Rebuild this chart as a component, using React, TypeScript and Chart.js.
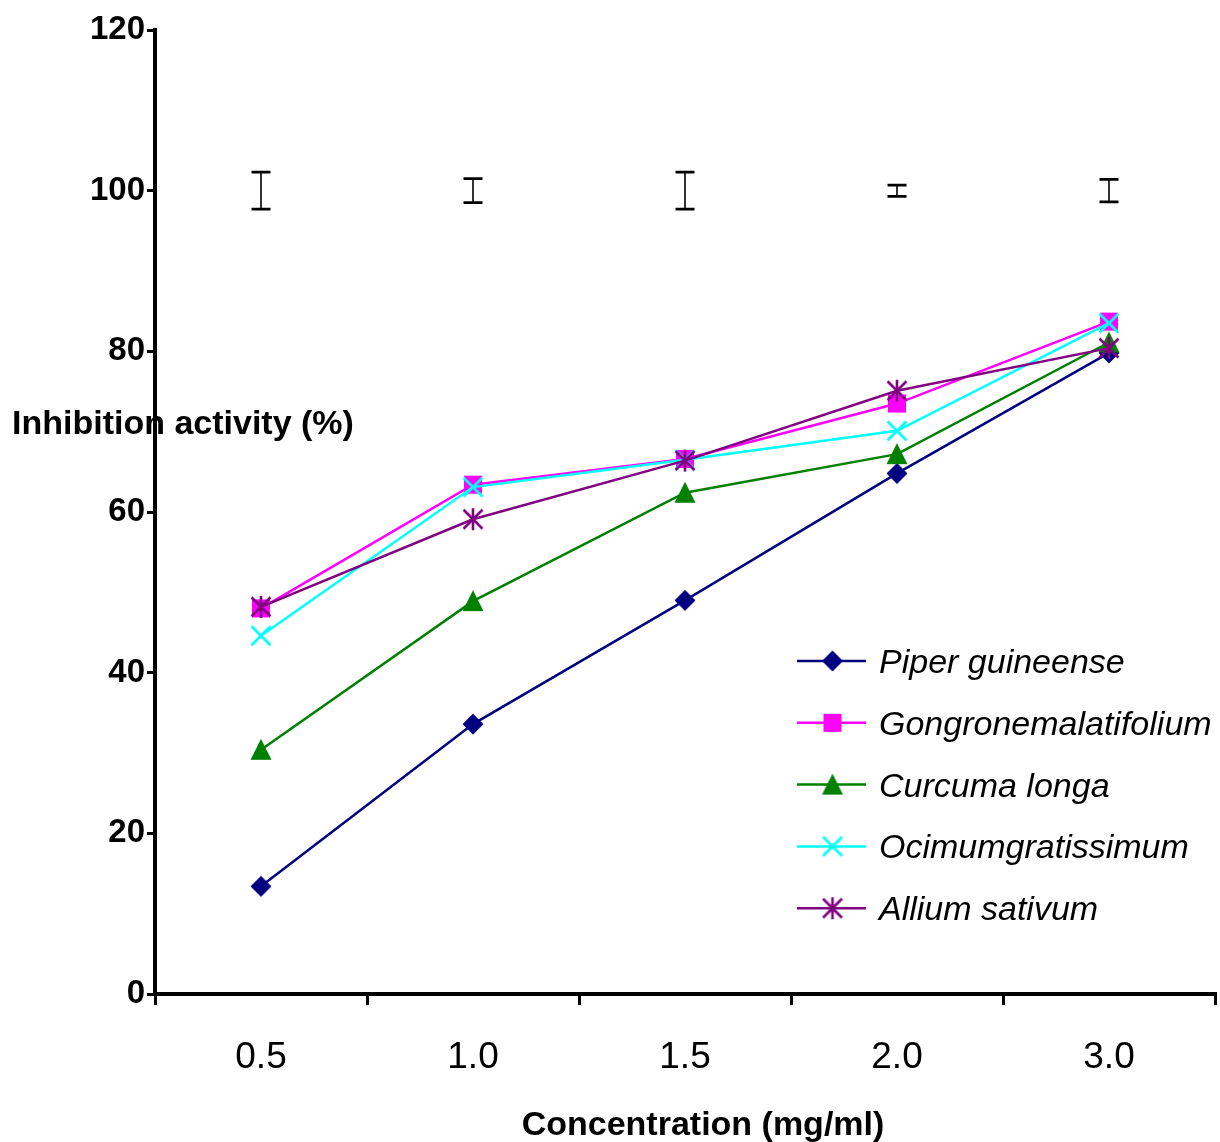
import React, { useEffect, useRef } from "react";
import { Chart, registerables } from "chart.js";

Chart.register(...registerables);

const categories = ["0.5", "1.0", "1.5", "2.0", "3.0"];
const seriesNames = [
  "Piper guineense",
  "Gongronemalatifolium",
  "Curcuma longa",
  "Ocimumgratissimum",
  "Allium sativum",
];
const piperValues = [13.4, 33.6, 49.0, 64.8, 79.8];
const gongronemaValues = [48.0, 63.4, 66.6, 73.5, 83.7];
const curcumaValues = [30.4, 48.9, 62.4, 67.2, 81.1];
const ocimumValues = [44.6, 63.1, 66.5, 70.1, 83.5];
const alliumValues = [48.2, 59.1, 66.4, 75.1, 80.4];
const errorCenter = [100, 100, 100, 100, 100];
const errorSize = [2.3, 1.5, 2.3, 0.7, 1.4];
const yTicks = [0, 20, 40, 60, 80, 100, 120];

const COLORS = ["#000080", "#FF00FF", "#008000", "#00FFFF", "#800080"];
const FONT = "'Liberation Sans', Arial, sans-serif";

function makeMarker(kind: string, color: string): HTMLCanvasElement {
  const c = document.createElement("canvas");
  const s = 26;
  c.width = s;
  c.height = s;
  const ctx = c.getContext("2d")!;
  const m = s / 2;
  ctx.fillStyle = color;
  ctx.strokeStyle = color;
  ctx.lineWidth = 2.6;
  ctx.lineCap = "butt";
  if (kind === "diamond") {
    const r = 10.5;
    ctx.beginPath();
    ctx.moveTo(m, m - r);
    ctx.lineTo(m + r, m);
    ctx.lineTo(m, m + r);
    ctx.lineTo(m - r, m);
    ctx.closePath();
    ctx.fill();
  } else if (kind === "square") {
    const h = 9;
    ctx.fillRect(m - h, m - h, 2 * h, 2 * h);
  } else if (kind === "triangle") {
    const w = 10.5;
    ctx.beginPath();
    ctx.moveTo(m, m - 11);
    ctx.lineTo(m + w, m + 10);
    ctx.lineTo(m - w, m + 10);
    ctx.closePath();
    ctx.fill();
  } else if (kind === "x") {
    const r = 9.5;
    ctx.beginPath();
    ctx.moveTo(m - r, m - r);
    ctx.lineTo(m + r, m + r);
    ctx.moveTo(m + r, m - r);
    ctx.lineTo(m - r, m + r);
    ctx.stroke();
  } else if (kind === "star") {
    const r = 9.5;
    ctx.beginPath();
    ctx.moveTo(m, m - r - 1.5);
    ctx.lineTo(m, m + r + 1.5);
    ctx.moveTo(m - r, m - r);
    ctx.lineTo(m + r, m + r);
    ctx.moveTo(m + r, m - r);
    ctx.lineTo(m - r, m + r);
    ctx.stroke();
  }
  return c;
}

export default function App() {
  const ref = useRef<HTMLCanvasElement | null>(null);

  useEffect(() => {
    if (!ref.current) return;
    const kinds = ["diamond", "square", "triangle", "x", "star"];
    const markers = kinds.map((k, i) => makeMarker(k, COLORS[i]));
    const values = [piperValues, gongronemaValues, curcumaValues, ocimumValues, alliumValues];

    const datasets = values.map((v, i) => ({
      label: seriesNames[i],
      data: v,
      borderColor: COLORS[i],
      backgroundColor: COLORS[i],
      borderWidth: 2.5,
      pointStyle: markers[i],
      pointRadius: 1,
      pointHoverRadius: 1,
      pointBorderWidth: 0,
      tension: 0,
      fill: false,
      order: 4 - i,
    }));

    const extras = {
      id: "extras",
      afterDatasetsDraw(chart: any) {
        const ctx = chart.ctx;
        const xs = chart.scales.x;
        const ys = chart.scales.y;
        ctx.save();
        ctx.strokeStyle = "#000";
        errorCenter.forEach((c, i) => {
          const x = xs.getPixelForValue(i);
          const yTop = ys.getPixelForValue(c + errorSize[i]);
          const yBot = ys.getPixelForValue(c - errorSize[i]);
          ctx.lineWidth = 1.6;
          ctx.beginPath();
          ctx.moveTo(x, yTop);
          ctx.lineTo(x, yBot);
          ctx.stroke();
          ctx.lineWidth = 2.8;
          ctx.beginPath();
          ctx.moveTo(x - 9.5, yTop);
          ctx.lineTo(x + 9.5, yTop);
          ctx.moveTo(x - 9.5, yBot);
          ctx.lineTo(x + 9.5, yBot);
          ctx.stroke();
        });
        ctx.restore();
      },
      afterDraw(chart: any) {
        const ctx = chart.ctx;
        ctx.save();
        ctx.fillStyle = "#000";
        ctx.font = `bold 34px ${FONT}`;
        ctx.textBaseline = "alphabetic";
        ctx.textAlign = "left";
        ctx.fillText("Inhibition activity (%)", 12, 434);
        ctx.textAlign = "center";
        ctx.fillText("Concentration (mg/ml)", 703, 1135);

        // legend
        const lx0 = 797;
        const lx1 = 866;
        const ly0 = 661;
        const gap = 61.8;
        ctx.font = `italic 34px ${FONT}`;
        ctx.textAlign = "left";
        chart.data.datasets.forEach((ds: any, i: number) => {
          const y = ly0 + i * gap;
          ctx.strokeStyle = ds.borderColor;
          ctx.lineWidth = 2.5;
          ctx.beginPath();
          ctx.moveTo(lx0, y);
          ctx.lineTo(lx1, y);
          ctx.stroke();
          const mk = ds.pointStyle as HTMLCanvasElement;
          ctx.drawImage(mk, (lx0 + lx1) / 2 - mk.width / 2 + 1, y - mk.height / 2);
          ctx.fillStyle = "#000";
          ctx.fillText(ds.label, 879, y + 12);
        });
        ctx.restore();
      },
    };

    const chart = new Chart(ref.current, {
      type: "line",
      data: { labels: categories, datasets: datasets as any },
      options: {
        animation: false,
        responsive: false,
        devicePixelRatio: 1,
        layout: { padding: { top: 30, right: 5, left: 0, bottom: 0 } },
        plugins: {
          legend: { display: false },
          tooltip: { enabled: false },
          title: { display: false },
        },
        scales: {
          x: {
            type: "category",
            offset: true,
            grid: {
              offset: true,
              drawOnChartArea: false,
              drawTicks: true,
              tickLength: 11,
              lineWidth: 3,
              color: "#000",
            },
            border: { display: true, width: 4, color: "#000" },
            ticks: {
              color: "#000",
              font: { family: FONT, size: 37 },
              padding: 31,
              maxRotation: 0,
            },
            afterFit: (s: any) => {
              s.height = 148;
            },
          },
          y: {
            min: 0,
            max: 120,
            afterBuildTicks: (s: any) => {
              s.ticks = yTicks.map((v) => ({ value: v }));
            },
            grid: {
              drawOnChartArea: false,
              drawTicks: true,
              tickLength: 8,
              lineWidth: 3,
              color: "#000",
            },
            border: { display: true, width: 4, color: "#000" },
            ticks: {
              color: "#000",
              font: { family: FONT, size: 33, weight: "bold" },
              padding: 2,
            },
            afterFit: (s: any) => {
              s.width = 155;
            },
          },
        },
      },
      plugins: [extras],
    });
    return () => chart.destroy();
  }, []);

  return (
    <div style={{ position: "fixed", left: 0, top: 0, width: 1220, height: 1142, background: "#fff" }}>
      <canvas ref={ref} width={1220} height={1142} style={{ width: 1220, height: 1142, display: "block" }} />
    </div>
  );
}
